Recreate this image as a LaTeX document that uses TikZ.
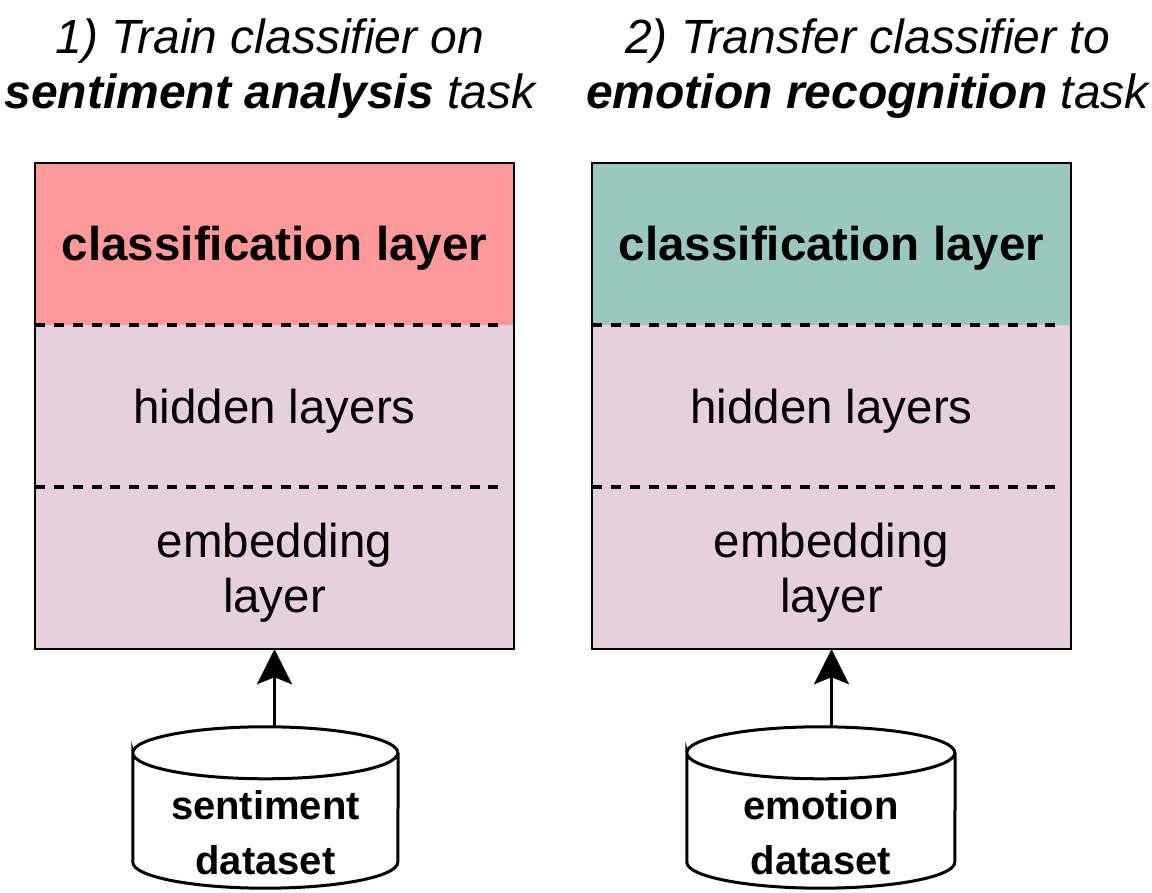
\documentclass[tikz,border=0pt]{standalone}
\usepackage{fontspec}
\setmainfont{Liberation Sans}
\usetikzlibrary{positioning,arrows.meta}
\definecolor{clsred}{HTML}{FF9999}
\definecolor{clsgreen}{HTML}{9AC7BF}
\definecolor{layerpink}{HTML}{E6D0DE}
\begin{document}
\begin{tikzpicture}[x=1pt, y=1pt,
		layer/.style = {shape=rectangle, minimum width=479pt, minimum height=161.7pt,
			inner sep=0pt, align=center, fill=layerpink,
			font=\fontsize{47.5}{55}\selectfont, text height=44pt, text depth=10pt},
		clslayer/.style = {layer, font=\fontsize{47.5}{55}\selectfont\bfseries},
		twolines/.style = {text height=99pt, text depth=10pt},
		sep/.style = {line width=3.3pt, dash pattern=on 10pt off 8.9pt},
		db/.style = {shape=rectangle, minimum width=265pt, minimum height=161pt, inner sep=0pt},
		dbline/.style = {line width=3pt, fill=white},
		dbtext/.style = {align=center, font=\fontsize{40}{55}\selectfont\bfseries},
		title/.style = {align=center, font=\fontsize{48}{55}\selectfont\itshape},
		feed/.style = {line width=3pt, -{Stealth[length=35pt, width=35pt, inset=7pt]}}]

	\useasboundingbox (0,0) rectangle (1152,893);

	% step 1: sentiment
	\node[title] (titleL) at (270,824.5) {1) Train classifier on\\\textbf{sentiment analysis} task};
	\node[clslayer, fill=clsred] (clsL) at (274.5,649) {classification layer};
	\node[layer, below=0pt of clsL] (hidL) {hidden layers};
	\node[layer, twolines, below=0pt of hidL] (embL) {embedding\\layer};
	\draw[line width=1.5pt] (clsL.north west) rectangle (embL.south east);
	\draw[sep] (clsL.south west) -- ++(464,0);
	\draw[sep] (hidL.south west) -- ++(464,0);

	\node[db] (dbL) at (265.5,85.5) {};
	\draw[dbline] ([yshift=-26pt]dbL.north west)
		arc[start angle=180, end angle=-180, x radius=132.5, y radius=26]
		-- ([yshift=26pt]dbL.south west)
		arc[start angle=180, end angle=360, x radius=132.5, y radius=26]
		-- ([yshift=-26pt]dbL.north east);
	\node[dbtext] (dbLtxt) at ([yshift=-25pt]dbL.center) {sentiment\\dataset};
	\draw[feed] (embL.south |- dbL.north) -- (embL.south);

	% step 2: emotion
	\node[title] (titleR) at (867.5,824.5) {2) Transfer classifier to\\\textbf{emotion recognition} task};
	\node[clslayer, fill=clsgreen] (clsR) at (831.5,649) {classification layer};
	\node[layer, below=0pt of clsR] (hidR) {hidden layers};
	\node[layer, twolines, below=0pt of hidR] (embR) {embedding\\layer};
	\draw[line width=1.5pt] (clsR.north west) rectangle (embR.south east);
	\draw[sep] (clsR.south west) -- ++(464,0);
	\draw[sep] (hidR.south west) -- ++(464,0);

	\node[db, minimum width=268pt] (dbR) at (821,85.5) {};
	\draw[dbline] ([yshift=-26pt]dbR.north west)
		arc[start angle=180, end angle=-180, x radius=134, y radius=26]
		-- ([yshift=26pt]dbR.south west)
		arc[start angle=180, end angle=360, x radius=134, y radius=26]
		-- ([yshift=-26pt]dbR.north east);
	\node[dbtext] (dbRtxt) at ([yshift=-25pt]dbR.center) {emotion\\dataset};
	\draw[feed] (embR.south |- dbR.north) -- (embR.south);
\end{tikzpicture}
\end{document}
